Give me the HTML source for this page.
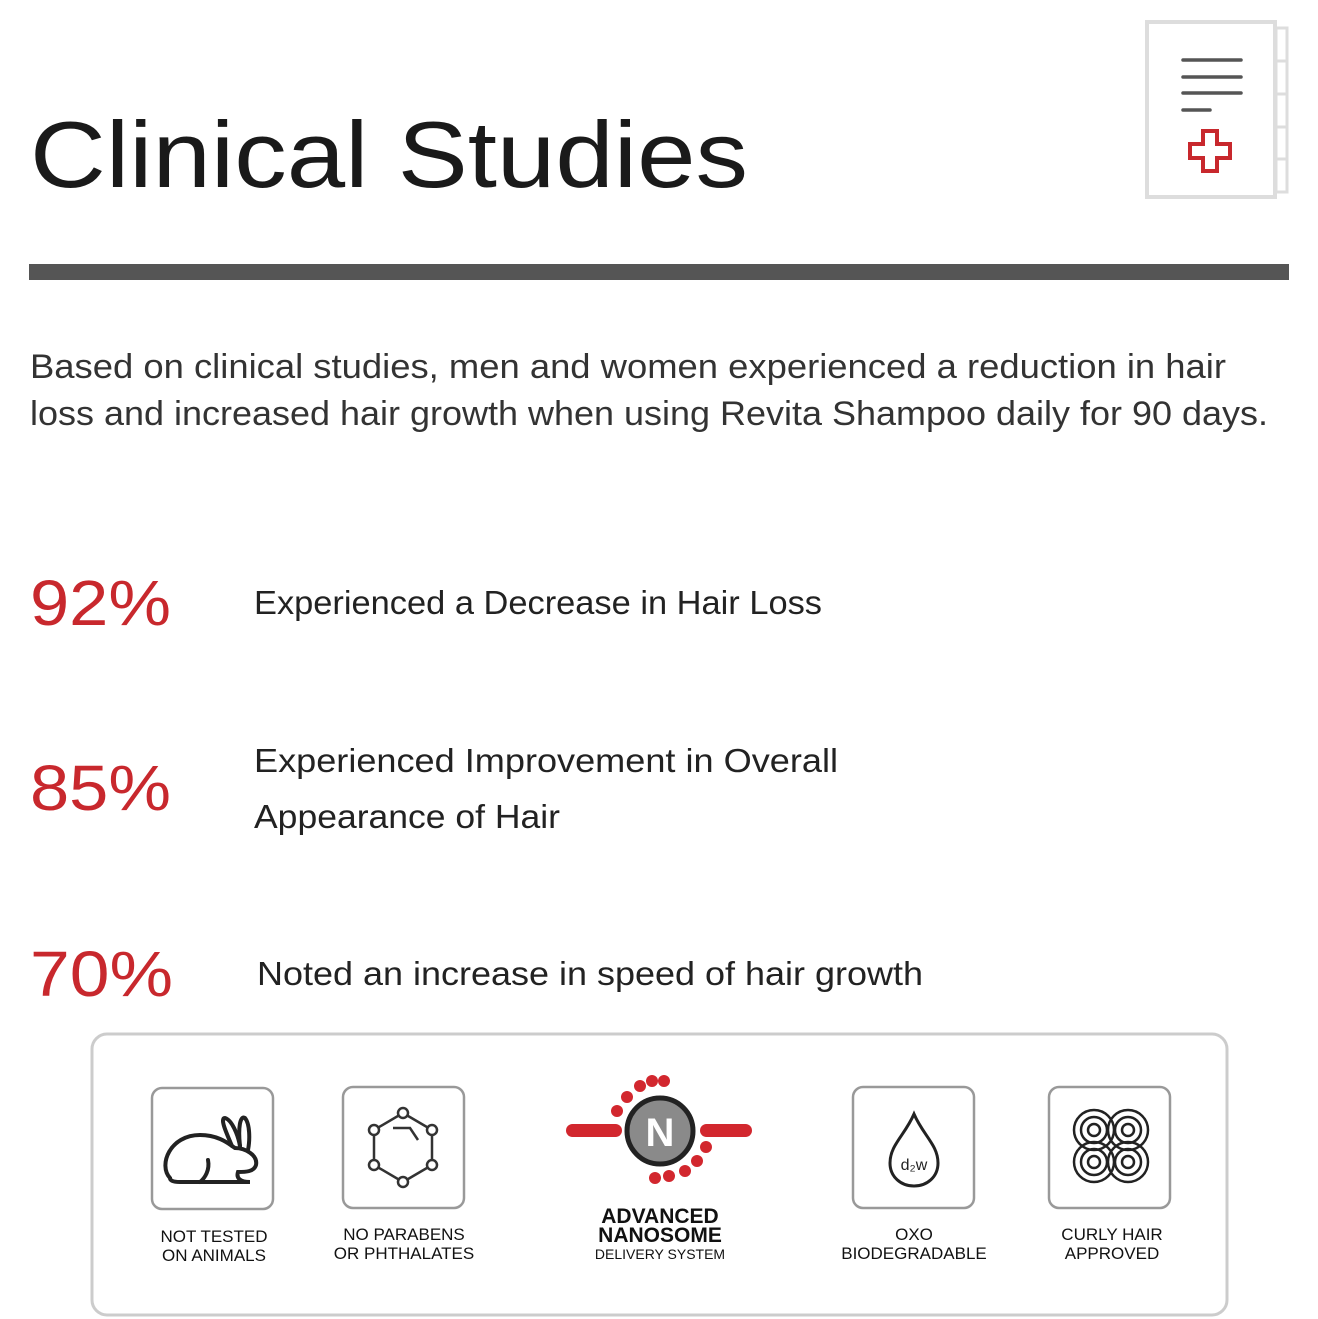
<!DOCTYPE html>
<html><head><meta charset="utf-8"><style>
html,body{margin:0;padding:0;background:#fff;}
svg{display:block;}
text{font-family:"Liberation Sans",sans-serif;}
</style></head><body>
<svg width="1318" height="1319" viewBox="0 0 1318 1319" xmlns="http://www.w3.org/2000/svg">
<rect width="1318" height="1319" fill="#fff"/>
<text x="30" y="187" font-size="94" fill="#1a1a1a" textLength="718" lengthAdjust="spacingAndGlyphs">Clinical Studies</text>
<!-- doc icon -->
<rect x="1147" y="22" width="128" height="175" fill="#fff" stroke="#ddd" stroke-width="4"/>
<rect x="1276" y="28" width="11" height="164" fill="none" stroke="#ddd" stroke-width="3"/>
<g stroke="#ddd" stroke-width="3"><line x1="1276" y1="61" x2="1287" y2="61"/><line x1="1276" y1="94" x2="1287" y2="94"/><line x1="1276" y1="127" x2="1287" y2="127"/><line x1="1276" y1="159" x2="1287" y2="159"/></g>
<g stroke="#555" stroke-width="3.5" stroke-linecap="round"><line x1="1183" y1="60" x2="1241" y2="60"/><line x1="1183" y1="77" x2="1241" y2="77"/><line x1="1183" y1="93" x2="1241" y2="93"/><line x1="1183" y1="110" x2="1210" y2="110"/></g>
<path d="M1203,131 h14 v13 h13 v14 h-13 v13 h-14 v-13 h-13 v-14 h13 z" fill="none" stroke="#c8282d" stroke-width="4"/>
<rect x="29" y="264" width="1260" height="16" fill="#555"/>
<g font-size="34" fill="#333">
<text x="30" y="378" textLength="1196" lengthAdjust="spacingAndGlyphs">Based on clinical studies, men and women experienced a reduction in hair</text>
<text x="30" y="425" textLength="1238" lengthAdjust="spacingAndGlyphs">loss and increased hair growth when using Revita Shampoo daily for 90 days.</text>
</g>
<g font-size="64" fill="#c8282d">
<text x="30" y="625" textLength="141" lengthAdjust="spacingAndGlyphs">92%</text>
<text x="30" y="810" textLength="141" lengthAdjust="spacingAndGlyphs">85%</text>
<text x="30" y="996" textLength="143" lengthAdjust="spacingAndGlyphs">70%</text>
</g>
<g font-size="33" fill="#222">
<text x="254" y="614" textLength="568" lengthAdjust="spacingAndGlyphs">Experienced a Decrease in Hair Loss</text>
<text x="254" y="772" textLength="584" lengthAdjust="spacingAndGlyphs">Experienced Improvement in Overall</text>
<text x="254" y="828" textLength="306" lengthAdjust="spacingAndGlyphs">Appearance of Hair</text>
<text x="257" y="985" textLength="666" lengthAdjust="spacingAndGlyphs">Noted an increase in speed of hair growth</text>
</g>
<rect x="92" y="1034" width="1135" height="281" rx="15" fill="#fff" stroke="#ccc" stroke-width="3"/>
<g fill="#fff" stroke="#999" stroke-width="2.5">
<rect x="152" y="1088" width="121" height="121" rx="10"/>
<rect x="343" y="1087" width="121" height="121" rx="10"/>
<rect x="853" y="1087" width="121" height="121" rx="10"/>
<rect x="1049" y="1087" width="121" height="121" rx="10"/>
</g>
<!-- rabbit -->
<g fill="none" stroke="#222" stroke-width="4" stroke-linecap="round">
<path d="M170,1178 C158,1165 170,1135 200,1135 C220,1135 230,1145 235,1148 C245,1148 258,1155 256,1165 C254,1172 245,1172 238,1172 C236,1178 240,1182 250,1182 L180,1182 C172,1182 170,1180 170,1178 Z"/>
<path d="M232,1146 C225,1130 220,1118 225,1118 C232,1120 238,1135 240,1146"/>
<path d="M240,1146 C238,1128 240,1115 245,1118 C250,1124 250,1140 248,1150"/>
<path d="M208,1160 C210,1170 205,1178 200,1182"/>
</g>
<!-- hexagon -->
<g fill="none" stroke="#333" stroke-width="2.5">
<polygon points="403,1113 432,1130 432,1165 403,1182 374,1165 374,1130"/>
<polyline points="393,1128 410,1128 418,1140"/>
<g fill="#fff"><circle cx="403" cy="1113" r="5"/><circle cx="432" cy="1130" r="5"/><circle cx="432" cy="1165" r="5"/><circle cx="403" cy="1182" r="5"/><circle cx="374" cy="1165" r="5"/><circle cx="374" cy="1130" r="5"/></g>
</g>
<!-- drop -->
<path d="M914,1114 C905,1135 890,1145 890,1163 C890,1177 901,1186 914,1186 C927,1186 938,1177 938,1163 C938,1145 923,1135 914,1114 Z" fill="none" stroke="#222" stroke-width="3"/>
<text x="914" y="1170" font-size="16" text-anchor="middle" fill="#222">d₂w</text>
<!-- curly -->
<g fill="none" stroke="#222" stroke-width="2.5">
<circle cx="1094" cy="1130" r="20"/><circle cx="1094" cy="1130" r="13"/><circle cx="1094" cy="1130" r="6"/>
<circle cx="1128" cy="1130" r="20"/><circle cx="1128" cy="1130" r="13"/><circle cx="1128" cy="1130" r="6"/>
<circle cx="1094" cy="1162" r="20"/><circle cx="1094" cy="1162" r="13"/><circle cx="1094" cy="1162" r="6"/>
<circle cx="1128" cy="1162" r="20"/><circle cx="1128" cy="1162" r="13"/><circle cx="1128" cy="1162" r="6"/>
</g>
<!-- nanosome -->
<rect x="566" y="1124" width="56" height="13" rx="6.5" fill="#d2272e"/>
<rect x="700" y="1124" width="52" height="13" rx="6.5" fill="#d2272e"/>
<g fill="#d2272e"><circle cx="617" cy="1111" r="6"/><circle cx="627" cy="1097" r="6"/><circle cx="640" cy="1086" r="6"/><circle cx="652" cy="1081" r="6"/><circle cx="664" cy="1081" r="6"/>
<circle cx="706" cy="1147" r="6"/><circle cx="697" cy="1161" r="6"/><circle cx="685" cy="1171" r="6"/><circle cx="669" cy="1176" r="6"/><circle cx="655" cy="1178" r="6"/></g>
<circle cx="660" cy="1131" r="33" fill="#8a8a8a" stroke="#222" stroke-width="5"/>
<text x="660" y="1146" font-size="40" font-weight="bold" text-anchor="middle" fill="#fff">N</text>
<g font-size="17" fill="#111" text-anchor="middle">
<text x="214" y="1242">NOT TESTED</text><text x="214" y="1261">ON ANIMALS</text>
<text x="404" y="1240">NO PARABENS</text><text x="404" y="1259">OR PHTHALATES</text>
<text x="914" y="1240">OXO</text><text x="914" y="1259">BIODEGRADABLE</text>
<text x="1112" y="1240">CURLY HAIR</text><text x="1112" y="1259">APPROVED</text>
<text x="660" y="1223" font-size="21" font-weight="bold">ADVANCED</text>
<text x="660" y="1242" font-size="21" font-weight="bold">NANOSOME</text>
<text x="660" y="1259" font-size="14">DELIVERY SYSTEM</text>
</g>
</svg>
</body></html>
